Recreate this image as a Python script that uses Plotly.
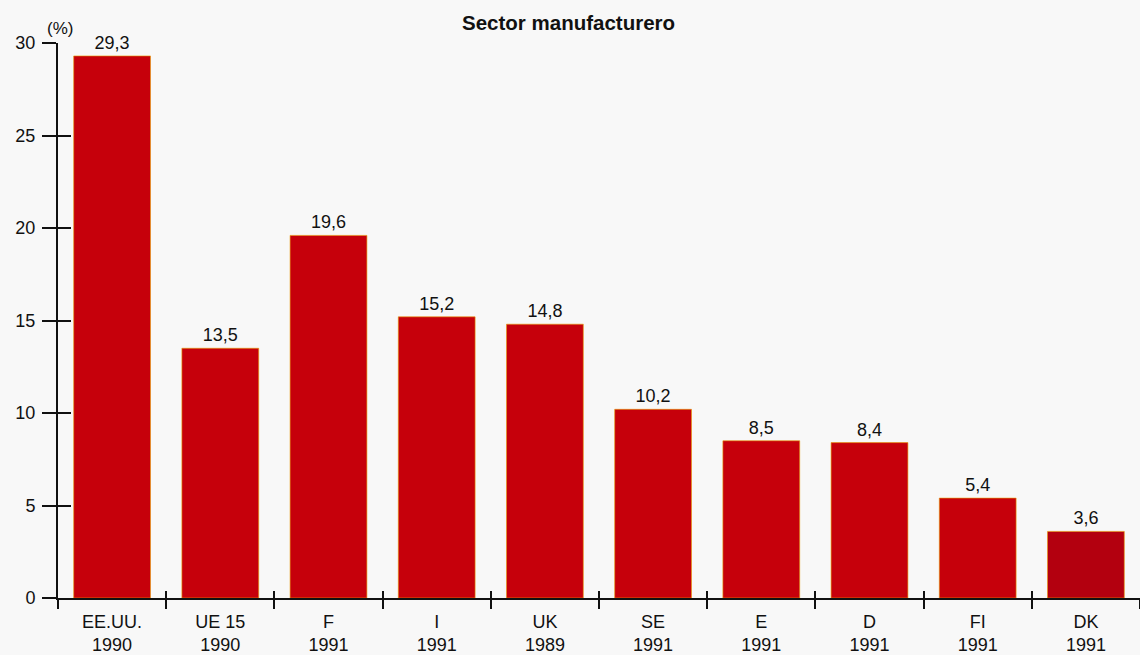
import plotly.graph_objects as go

countries = ["EE.UU.", "UE 15", "F", "I", "UK", "SE", "E", "D", "FI", "DK"]
years = ["1990", "1990", "1991", "1991", "1989", "1991", "1991", "1991", "1991", "1991"]
values = [29.3, 13.5, 19.6, 15.2, 14.8, 10.2, 8.5, 8.4, 5.4, 3.6]
bar_colors = ["#c6000b"] * 9 + ["#b3000f"]
y_ticks = [0, 5, 10, 15, 20, 25, 30]
title_text = "Sector manufacturero"
unit_text = "(%)"

categories = [f"{c}<br>{y}" for c, y in zip(countries, years)]
labels = [f"{v:.1f}".replace(".", ",") for v in values]

FONT = "Liberation Sans, Arial, Helvetica, sans-serif"

fig = go.Figure()
fig.add_trace(go.Bar(
    x=categories, y=values, text=labels, textposition="outside",
    textfont=dict(size=18, color="#111", family=FONT),
    marker=dict(color=bar_colors, line=dict(color="#e89a00", width=0.6)),
    width=0.71, cliponaxis=False, showlegend=False, hoverinfo="x+y",
))
# invisible trace to activate the overlay axes (crossing tick marks)
fig.add_trace(go.Scatter(x=[None], y=[None], xaxis="x2", yaxis="y2",
                         showlegend=False, hoverinfo="skip"))

fig.update_layout(
    width=1140, height=655,
    margin=dict(l=58, r=0, t=43, b=57, autoexpand=False),
    paper_bgcolor="#f8f8f8", plot_bgcolor="#f8f8f8",
    font=dict(family=FONT, size=18, color="#111"),
    xaxis=dict(
        type="category", categoryarray=categories, range=[-0.5, 9.5],
        showline=True, linecolor="#111", linewidth=2,
        ticks="outside", tickson="boundaries", ticklen=9, tickwidth=2, tickcolor="#111",
        showgrid=False, zeroline=False, tickfont=dict(size=18),
        ticklabelstandoff=6, automargin=False,
    ),
    xaxis2=dict(
        overlaying="x", type="linear", range=[-0.5, 9.5], tick0=-0.5, dtick=1,
        ticks="inside", ticklen=7, tickwidth=2, tickcolor="#111",
        showticklabels=False, showgrid=False, zeroline=False, showline=False,
        anchor="y", side="bottom",
    ),
    yaxis=dict(
        range=[0, 30], tickvals=y_ticks,
        showline=True, linecolor="#111", linewidth=2,
        ticks="outside", ticklen=14, tickwidth=2, tickcolor="#111",
        showgrid=False, zeroline=False, tickfont=dict(size=18),
        ticklabelstandoff=3, automargin=False,
    ),
    yaxis2=dict(
        overlaying="y", range=[0, 30], tickvals=y_ticks,
        ticks="inside", ticklen=13, tickwidth=2, tickcolor="#111",
        showticklabels=False, showgrid=False, zeroline=False, showline=False,
        anchor="x", side="left",
    ),
)

fig.add_annotation(text=f"<b>{title_text}</b>", xref="paper", yref="paper",
                   x=(568 - 58) / (1140 - 58), y=1, yshift=21, xanchor="center",
                   yanchor="middle", showarrow=False, font=dict(size=20.5, family=FONT))
fig.add_annotation(text=unit_text, xref="paper", yref="paper", x=0, y=1,
                   xshift=2, yshift=15, xanchor="center", yanchor="middle",
                   showarrow=False, font=dict(size=17, family=FONT))

fig.write_html("out.html", config={"displayModeBar": False},
               post_script="document.body.style.margin='0';")
